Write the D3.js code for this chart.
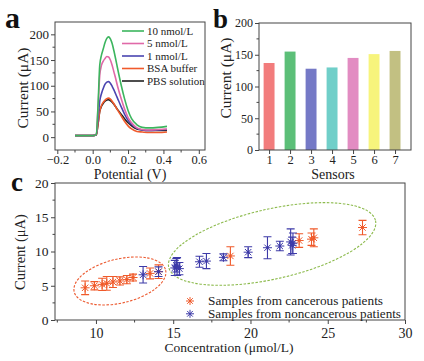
<!DOCTYPE html>
<html>
<head>
<meta charset="utf-8">
<script src="https://cdn.jsdelivr.net/npm/d3@7"></script>
<style>
  body { margin: 0; background: #fff; }
  svg { display: block; font-family: "Liberation Serif", "Times New Roman", serif; }
  .axis line { stroke: #444; }
  .axis text { fill: #222; font-family: "Liberation Serif", serif; }
  .title { fill: #222; }
  .panel { font-weight: bold; fill: #111; }
</style>
</head>
<body>
<svg id="Vis" width="424" height="361"></svg>
<script>
/*
* DATA
*/

// panel a: DPV curves
const potential = [-0.1, -0.05, 0, 0.02, 0.03, 0.04, 0.05, 0.06, 0.07, 0.08, 0.09, 0.10, 0.11, 0.12, 0.13, 0.14, 0.16, 0.18, 0.20, 0.22, 0.25, 0.28, 0.32, 0.37, 0.42];
const curveNames = ["10 nmol/L", "5 nmol/L", "1 nmol/L", "BSA buffer", "PBS solution"];
const curveColors = ["#3cb55e", "#e069a8", "#4a45b0", "#f05a2c", "#222222"];
const curve10 = [3, 3, 3, 5, 60, 140, 160, 172, 184, 192, 195, 191, 182, 168, 152, 135, 103, 75, 52, 36, 24, 19, 18, 19, 21];
const curve5 = [3, 3, 3, 5, 55, 120, 140, 148, 153, 157, 156, 150, 140, 127, 114, 100, 76, 55, 38, 28, 18, 15, 14, 15, 16];
const curve1 = [3, 3, 3, 4, 35, 70, 85, 95, 103, 107, 108, 105, 99, 92, 84, 76, 60, 45, 33, 25, 17, 14, 13, 14, 15];
const curveBSA = [3, 3, 3, 4, 25, 50, 62, 68, 72, 75, 76, 74, 70, 65, 59, 53, 42, 31, 22, 16, 11, 10, 9, 9, 10];
const curvePBS = [3, 3, 3, 4, 25, 50, 60, 66, 70, 72, 73, 71, 68, 64, 59, 54, 45, 36, 28, 22, 16, 14, 13, 13, 13];

// panel b: sensors
const sensors = [1, 2, 3, 4, 5, 6, 7];
const sensorCurrent = [137, 155, 128, 130, 145, 151, 156];
const sensorColors = ["#f27c7c", "#5cbf78", "#7579c6", "#70cfc9", "#e28cc2", "#f7f47c", "#c2c082"];

// panel c: samples [concentration, current, error]
const cancerous = [
  [9.3, 4.7, 1.0], [9.9, 5.0, 0.6], [10.4, 5.2, 0.9], [10.7, 5.35, 1.0], [11.1, 5.55, 0.8],
  [11.55, 5.7, 0.6], [12.0, 5.9, 0.6], [12.4, 6.2, 0.5], [13.5, 6.8, 0.8], [14.05, 7.05, 1.0],
  [18.7, 9.35, 1.35], [23.15, 11.6, 1.0], [23.95, 11.8, 0.9], [24.1, 12.0, 1.3], [27.25, 13.5, 1.05]
];
const noncancerous = [
  [13.05, 6.6, 1.2], [14.05, 7.05, 0.7], [15.1, 7.6, 1.1], [15.25, 7.8, 1.3], [15.4, 7.5, 0.9],
  [15.2, 8.0, 1.0], [16.7, 8.5, 0.8], [17.15, 8.6, 1.1], [18.25, 9.15, 0.5], [19.85, 9.9, 0.8],
  [21.1, 10.55, 1.6], [21.9, 10.8, 0.7], [22.6, 11.4, 1.9], [22.75, 11.2, 1.5], [22.7, 10.9, 1.2]
];
const sampleNames = ["Samples from cancerous patients", "Samples from noncancerous patients"];
const sampleColors = ["#f05a2a", "#3d3aa8"];

/*
* SETUP
*/
const svg = d3.select("svg#Vis");

function frame(g, x0, x1, y0, y1) {
  g.append("rect")
    .attr("x", x0).attr("y", y0)
    .attr("width", x1 - x0).attr("height", y1 - y0)
    .attr("fill", "none").attr("stroke", "#444").attr("stroke-width", 1);
}

function minorTicks(g, scale, values, orient, pos) {
  values.forEach(v => {
    const p = scale(v);
    if (orient === "left") {
      g.append("line").attr("x1", pos).attr("x2", pos - 2.5).attr("y1", p).attr("y2", p)
        .attr("stroke", "#444");
    } else {
      g.append("line").attr("x1", p).attr("x2", p).attr("y1", pos).attr("y2", pos + 2.5)
        .attr("stroke", "#444");
    }
  });
}

function axisText(a, size) {
  a.select(".domain").remove();
  a.selectAll("text").style("font-size", size + "px");
}

/*
* PANEL A
*/
const gA = svg.append("g");
const xA = d3.scaleLinear().domain([-0.213, 0.635]).range([55, 205]);
const yA = d3.scaleLinear().domain([-25, 224]).range([150, 22]);

const curves = [curve10, curve5, curve1, curveBSA, curvePBS];
const lineA = d3.line().x((d, i) => xA(potential[i])).y(d => yA(d)).curve(d3.curveMonotoneX);

// draw from bottom to top
[4, 3, 2, 1, 0].forEach(k => {
  gA.append("path").datum(curves[k])
    .attr("d", lineA)
    .attr("fill", "none")
    .attr("stroke", curveColors[k])
    .attr("stroke-width", 1.6);
});

gA.append("g").attr("class", "axis").attr("transform", "translate(0,150)")
  .call(d3.axisBottom(xA).tickValues([-0.2, 0, 0.2, 0.4, 0.6]).tickFormat(d3.format(".1f")).tickSize(4).tickPadding(1).tickSizeOuter(0))
  .call(a => axisText(a, 12.5));
gA.append("g").attr("class", "axis").attr("transform", "translate(55,0)")
  .call(d3.axisLeft(yA).tickValues([0, 50, 100, 150, 200]).tickSize(4).tickPadding(2).tickSizeOuter(0))
  .call(a => axisText(a, 13));
minorTicks(gA, xA, [-0.1, 0.1, 0.3, 0.5], "bottom", 150);
minorTicks(gA, yA, [25, 75, 125, 175], "left", 55);
frame(gA, 55, 205, 22, 150);

// legend a
curveNames.forEach((name, i) => {
  const y = 31 + i * 12.5;
  gA.append("line").attr("x1", 122).attr("x2", 144).attr("y1", y).attr("y2", y)
    .attr("stroke", curveColors[i]).attr("stroke-width", 1.6);
  gA.append("text").attr("x", 147).attr("y", y + 3.8)
    .style("font-size", "11px").attr("fill", "#222").text(name);
});

gA.append("text").attr("class", "title").attr("x", 130).attr("y", 179)
  .attr("text-anchor", "middle").style("font-size", "14px").text("Potential (V)");
gA.append("text").attr("class", "title")
  .attr("transform", "translate(28,88) rotate(-90)")
  .attr("text-anchor", "middle").style("font-size", "15.5px").text("Current (μA)");
gA.append("text").attr("class", "panel").attr("x", 5).attr("y", 28).style("font-size", "30px").text("a");

/*
* PANEL B
*/
const gB = svg.append("g");
const xB = d3.scaleLinear().domain([0.52, 7.76]).range([259, 411]);
const yB = d3.scaleLinear().domain([0, 200]).range([150, 23]);
const barW = 0.52;

gB.selectAll("rect.bar")
  .data(sensors)
  .join("rect")
    .attr("class", "bar")
    .attr("x", d => xB(d - barW / 2))
    .attr("width", xB(barW) - xB(0))
    .attr("y", (d, i) => yB(sensorCurrent[i]))
    .attr("height", (d, i) => yB(0) - yB(sensorCurrent[i]))
    .attr("fill", (d, i) => sensorColors[i]);

gB.append("g").attr("class", "axis").attr("transform", "translate(0,150)")
  .call(d3.axisBottom(xB).tickValues(sensors).tickSize(4).tickPadding(1).tickSizeOuter(0))
  .call(a => axisText(a, 12.5));
gB.append("g").attr("class", "axis").attr("transform", "translate(259,0)")
  .call(d3.axisLeft(yB).tickValues([0, 50, 100, 150, 200]).tickSize(4).tickPadding(2).tickSizeOuter(0))
  .call(a => axisText(a, 12));
minorTicks(gB, yB, [25, 75, 125, 175], "left", 259);
frame(gB, 259, 411, 23, 150);

gB.append("text").attr("class", "title").attr("x", 333).attr("y", 179)
  .attr("text-anchor", "middle").style("font-size", "14px").text("Sensors");
gB.append("text").attr("class", "title")
  .attr("transform", "translate(231,78) rotate(-90)")
  .attr("text-anchor", "middle").style("font-size", "15.5px").text("Current (μA)");
gB.append("text").attr("class", "panel").attr("x", 213).attr("y", 28).style("font-size", "27px").text("b");

/*
* PANEL C
*/
const gC = svg.append("g");
const xC = d3.scaleLinear().domain([7.35, 30]).range([55, 405]);
const yC = d3.scaleLinear().domain([0, 20]).range([320, 183]);

// ellipses (centre in data units, radii in pixels)
function ellipse(cx, cy, rx, ry, angle, color) {
  gC.append("ellipse")
    .attr("transform", translate(xC(cx), yC(cy)) + " rotate(" + angle + ")")
    .attr("rx", rx).attr("ry", ry)
    .attr("fill", "none").attr("stroke", color)
    .attr("stroke-width", 1.1).attr("stroke-dasharray", "2.5,1.5");
}
ellipse(11.55, 5.7, 47, 22, -13.4, "#ec5a30");
ellipse(21.4, 11.1, 106, 35, -12.7, "#8cba4c");

function star(g, cx, cy, r, color) {
  const d = 0.707 * r;
  const p = "M" + (cx - r) + "," + cy + "H" + (cx + r) +
    "M" + cx + "," + (cy - r) + "V" + (cy + r) +
    "M" + (cx - d) + "," + (cy - d) + "L" + (cx + d) + "," + (cy + d) +
    "M" + (cx - d) + "," + (cy + d) + "L" + (cx + d) + "," + (cy - d);
  g.append("path").attr("d", p).attr("stroke", color).attr("stroke-width", 1).attr("fill", "none");
}

function samples(data, color) {
  data.forEach(s => {
    const cx = xC(s[0]), cy = yC(s[1]);
    const top = yC(s[1] + s[2]), bot = yC(s[1] - s[2]);
    gC.append("path")
      .attr("d", "M" + cx + "," + top + "V" + bot +
        "M" + (cx - 4) + "," + top + "H" + (cx + 4) +
        "M" + (cx - 4) + "," + bot + "H" + (cx + 4))
      .attr("stroke", color).attr("stroke-width", 1.1).attr("fill", "none");
    star(gC, cx, cy, 4.5, color);
    gC.append("circle").attr("cx", cx).attr("cy", cy).attr("r", 1.3).attr("fill", color);
  });
}
samples(cancerous, sampleColors[0]);
samples(noncancerous, sampleColors[1]);

gC.append("g").attr("class", "axis").attr("transform", "translate(0,320)")
  .call(d3.axisBottom(xC).tickValues([10, 15, 20, 25, 30]).tickSize(4).tickPadding(4).tickSizeOuter(0))
  .call(a => axisText(a, 14));
gC.append("g").attr("class", "axis").attr("transform", "translate(55,0)")
  .call(d3.axisLeft(yC).tickValues([0, 5, 10, 15, 20]).tickSize(4).tickPadding(2.5).tickSizeOuter(0))
  .call(a => axisText(a, 13.5));
minorTicks(gC, xC, [7.5, 12.5, 17.5, 22.5, 27.5], "bottom", 320);
minorTicks(gC, yC, [2.5, 7.5, 12.5, 17.5], "left", 55);
frame(gC, 55, 405, 183, 320);

// legend c
const legendLen = [175, 193];
sampleNames.forEach((name, i) => {
  const y = 301 + i * 12.8;
  star(gC, 190, y, 4, sampleColors[i]);
  gC.append("text").attr("x", 208).attr("y", y + 3.8)
    .attr("textLength", legendLen[i]).attr("lengthAdjust", "spacingAndGlyphs")
    .style("font-size", "11.5px").attr("fill", "#222").text(name);
});

gC.append("text").attr("class", "title").attr("x", 229).attr("y", 352)
  .attr("text-anchor", "middle").style("font-size", "13.5px").text("Concentration (μmol/L)");
gC.append("text").attr("class", "title")
  .attr("transform", "translate(25,252) rotate(-90)")
  .attr("text-anchor", "middle").style("font-size", "14.5px").text("Current (μA)");
gC.append("text").attr("class", "panel").attr("x", 11).attr("y", 191).style("font-size", "27px").text("c");

/*
* HELPER FUNCTIONS
*/
function translate(x, y) {
  return 'translate(' + String(x) + ',' + String(y) + ')';
}
</script>
</body>
</html>
